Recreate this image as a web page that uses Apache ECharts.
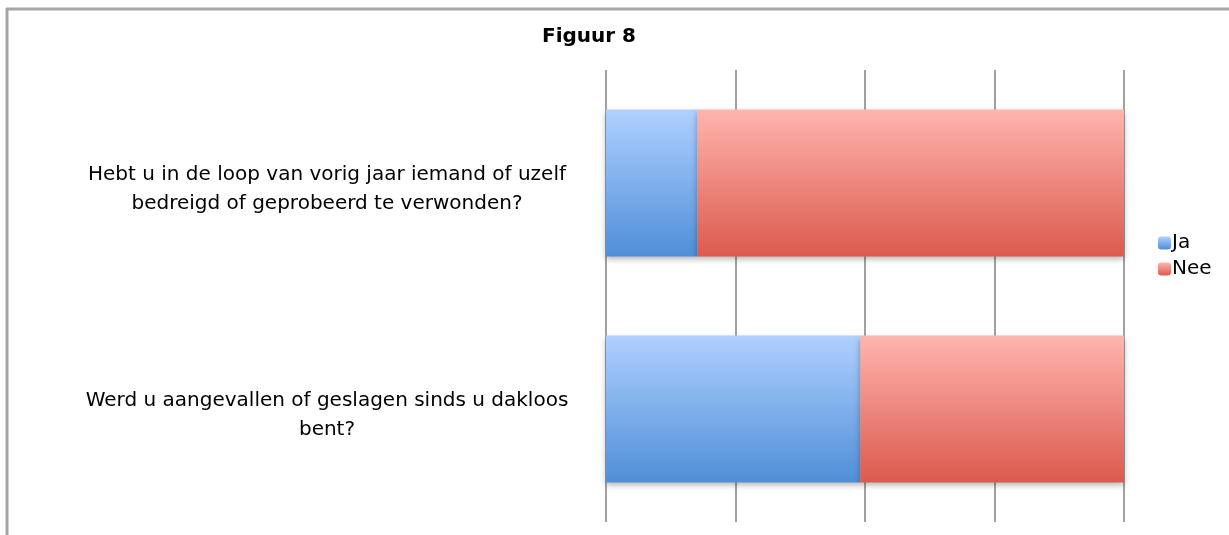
<!DOCTYPE html>
<html>
<head>
<meta charset="utf-8">
<script src="https://cdn.jsdelivr.net/npm/echarts@6/dist/echarts.min.js"></script>
<style>
  html, body { margin: 0; padding: 0; background: #fff; }
  #chart { width: 1229px; height: 535px; }
</style>
</head>
<body>
<div id="chart"></div>
<script>
// vragen (van boven naar beneden)
var categories = [
    'Hebt u in de loop van vorig jaar iemand of uzelf\nbedreigd of geprobeerd te verwonden?',
    'Werd u aangevallen of geslagen sinds u dakloos\nbent?'
];
var jaValues = [17.6, 49.1];
var neeValues = [82.4, 50.9];
var seriesNames = ['Ja', 'Nee'];

var chart = echarts.init(document.getElementById('chart'));

var blueGrad = new echarts.graphic.LinearGradient(0, 0, 0, 1, [
    { offset: 0, color: '#b0d0ff' },
    { offset: 1, color: '#4f8fd8' }
]);
var redGrad = new echarts.graphic.LinearGradient(0, 0, 0, 1, [
    { offset: 0, color: '#ffb4ae' },
    { offset: 1, color: '#dc5a4e' }
]);

chart.setOption({
    animation: false,
    textStyle: { fontFamily: '"DejaVu Sans", sans-serif' },
    title: {
        text: 'Figuur 8',
        left: 584,
        textAlign: 'center',
        top: 22,
        textStyle: { fontSize: 20, fontWeight: 'bold', color: '#000', fontFamily: '"DejaVu Sans", sans-serif' }
    },
    graphic: [
        { type: 'line', shape: { x1: 6, y1: 9, x2: 1229, y2: 9 }, style: { stroke: '#a6a6a6', lineWidth: 3 } },
        { type: 'line', shape: { x1: 7, y1: 8, x2: 7, y2: 535 }, style: { stroke: '#a6a6a6', lineWidth: 3 } }
    ],
    legend: {
        data: seriesNames,
        orient: 'vertical',
        left: 1153,
        top: 228,
        itemWidth: 13,
        itemHeight: 13,
        itemGap: 6,
        textStyle: { fontSize: 20, color: '#000', padding: [0, 0, 0, -4] }
    },
    grid: {
        left: 606,
        right: 105,
        top: 70,
        bottom: 13,
        containLabel: false
    },
    xAxis: {
        type: 'value',
        min: 0,
        max: 100,
        interval: 25,
        axisLine: { show: false },
        axisTick: { show: false },
        axisLabel: { show: false },
        splitLine: { show: true, lineStyle: { color: '#a0a0a0', width: 2 } }
    },
    yAxis: {
        type: 'category',
        inverse: true,
        data: categories,
        axisLine: { show: false },
        axisTick: { show: false },
        axisLabel: {
            align: 'center',
            margin: 279,
            color: '#000',
            formatter: function (v) {
                // kleine lege regel bovenaan om de tekst iets omlaag te zetten
                return '{s| }\n' + v.split('\n').map(function (r) { return '{t|' + r + '}'; }).join('\n');
            },
            rich: {
                s: { fontSize: 4, lineHeight: 12 },
                t: { fontSize: 20, lineHeight: 29, color: '#000' }
            }
        }
    },
    series: [
        {
            name: 'Ja',
            type: 'bar',
            stack: 'totaal',
            barWidth: '65%',
            data: jaValues,
            itemStyle: {
                color: blueGrad,
                shadowColor: 'rgba(0,0,0,0.3)',
                shadowBlur: 6,
                shadowOffsetY: 3
            }
        },
        {
            name: 'Nee',
            type: 'bar',
            stack: 'totaal',
            barWidth: '65%',
            data: neeValues,
            itemStyle: {
                color: redGrad,
                shadowColor: 'rgba(0,0,0,0.3)',
                shadowBlur: 6,
                shadowOffsetY: 3
            }
        }
    ]
});
</script>
</body>
</html>
